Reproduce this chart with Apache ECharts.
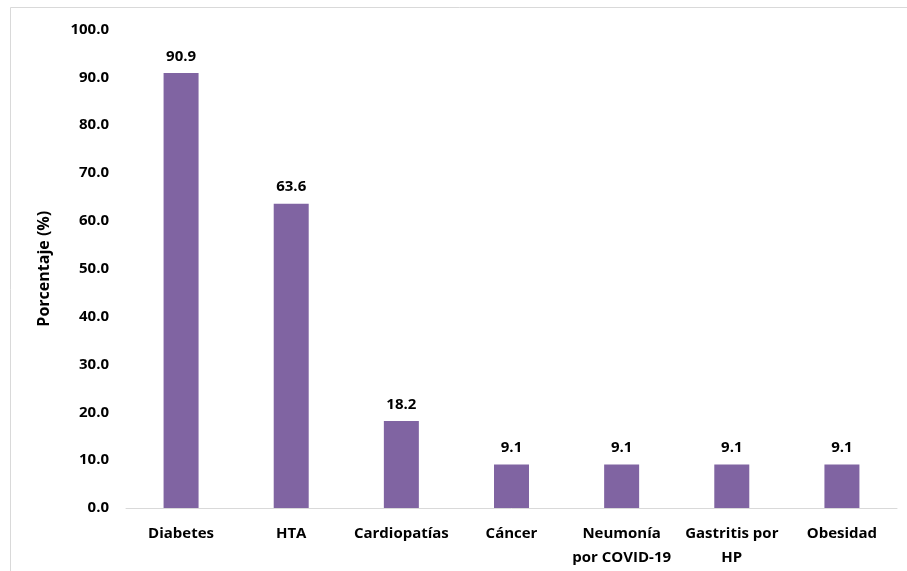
<!DOCTYPE html>
<html>
<head>
<meta charset="utf-8">
<script src="https://cdn.jsdelivr.net/npm/echarts@6/dist/echarts.min.js"></script>
<style>
  html, body { margin: 0; padding: 0; background: #fff; }
  #chart { width: 907px; height: 571px; }
</style>
</head>
<body>
<div id="chart"></div>
<script>
// Comorbilidades: porcentaje de pacientes
const categories = ['Diabetes', 'HTA', 'Cardiopatías', 'Cáncer', 'Neumonía\npor COVID-19', 'Gastritis por\nHP', 'Obesidad'];
const values = [90.9, 63.6, 18.2, 9.1, 9.1, 9.1, 9.1];
const yAxisTitle = 'Porcentaje (%)';

const FONT = '"Open Sans", Lato, sans-serif';
const chart = echarts.init(document.getElementById('chart'));

chart.setOption({
  backgroundColor: '#ffffff',
  animation: false,
  graphic: [{
    type: 'rect',
    silent: true,
    shape: { x: 10.5, y: 7.5, width: 910, height: 580 },
    style: { fill: 'none', stroke: '#d9d9d9', lineWidth: 1 }
  }],
  grid: { left: 126, right: 10, top: 29.5, bottom: 63 },
  xAxis: {
    type: 'category',
    data: categories,
    axisLine: { show: true, lineStyle: { color: '#d9d9d9', width: 1 } },
    axisTick: { show: false },
    axisLabel: {
      interval: 0, margin: 14, color: '#000',
      fontFamily: FONT, fontWeight: 'bold', fontSize: 15, lineHeight: 24
    }
  },
  yAxis: {
    type: 'value',
    min: 0, max: 100, interval: 10,
    name: yAxisTitle,
    nameLocation: 'middle',
    nameGap: 74,
    nameTextStyle: { color: '#000', fontFamily: FONT, fontWeight: 'bold', fontSize: 16 },
    axisLine: { show: false },
    axisTick: { show: false },
    splitLine: { show: false },
    axisLabel: {
      margin: 17, color: '#000',
      fontFamily: FONT, fontWeight: 'bold', fontSize: 15,
      formatter: v => v.toFixed(1)
    }
  },
  series: [{
    type: 'bar',
    data: values,
    barWidth: 35,
    itemStyle: { color: '#8064A2' },
    label: {
      show: true, position: 'top', distance: 9, color: '#000',
      fontFamily: FONT, fontWeight: 'bold', fontSize: 15,
      formatter: p => p.value.toFixed(1)
    }
  }]
});
</script>
</body>
</html>
